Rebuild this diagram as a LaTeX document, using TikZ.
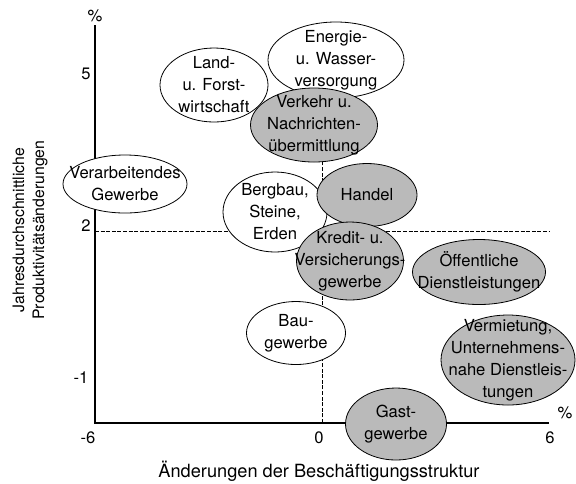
\documentclass[tikz,border=0pt]{standalone}
\usepackage{fontspec}
\setmainfont{TeX Gyre Heros}
\usetikzlibrary{shapes.geometric}
\begin{document}
\begin{tikzpicture}[x=0.5pt, y=-0.5pt, font=\fontsize{8.3}{11}\selectfont,
  sector/.style={ellipse, draw, line width=0.4pt, inner sep=0pt, fill=white},
  graysector/.style={sector, fill=black!27},
  sectortext/.style={inner sep=0pt, align=center},
  ticklabel/.style={inner sep=0pt},
  guide/.style={dash pattern=on 2pt off 0.8pt, line width=0.5pt}]
\useasboundingbox (0,0) rectangle (576,483);
\coordinate (o) at (95,423);
\coordinate (ytop) at (95,25);
\coordinate (xend) at (549,423);
\coordinate (two) at (95,231);
\coordinate (twoend) at (549,231);
\coordinate (zero) at (322,423);
\coordinate (zerotop) at (322,130);
\draw[line width=0.6pt] (ytop) -- (o) -- (xend);
\draw[guide] (two) -- (twoend);
\draw[guide] (zero) -- (zerotop);
\node[ticklabel] (ypct) at (95,16) {\%};
\node[ticklabel] (y5) at (86,74) {5};
\node[ticklabel] (y2) at (86,226) {2};
\node[ticklabel] (ym1) at (81,378) {-1};
\node[ticklabel] (xm6) at (88,438) {-6};
\node[ticklabel] (x0) at (319,438) {0};
\node[ticklabel] (x6) at (550,438) {6};
\node[ticklabel] (xpct) at (565,413) {\%};
\node[ticklabel, font=\fontsize{9.1}{11}\selectfont] (xlabel) at (319,471) {Änderungen der Beschäftigungsstruktur};
\node[ticklabel, rotate=90, align=center, font=\fontsize{7.9}{10}\selectfont] (ylabel) at (30,230) {Jahresdurchschnittliche\\Produktivitätsänderungen};
\node[sector, minimum width=62pt, minimum height=29pt] (verarb) at (125,184) {};
\node[sectortext] (verarb-t) at (verarb) {Verarbeitendes\\Gewerbe};
\node[sector, minimum width=54pt, minimum height=37pt] (land) at (214,85) {};
\node[sectortext] (land-t) at (land) {Land-\\u. Forst-\\wirtschaft};
\node[sector, minimum width=68pt, minimum height=38pt] (energie) at (336,60) {};
\node[sectortext] (energie-t) at (energie) {Energie-\\u. Wasser-\\versorgung};
\node[graysector, minimum width=63.5pt, minimum height=37pt] (verkehr) at (314,125) {};
\node[sectortext] (verkehr-t) at (verkehr) {Verkehr u.\\Nachrichten-\\übermittlung};
\node[sector, minimum width=52pt, minimum height=40pt] (bergbau) at (275,212) {};
\node[sectortext] (bergbau-t) at (bergbau) {Bergbau,\\Steine,\\Erden};
\node[graysector, minimum width=50pt, minimum height=31.5pt] (handel) at (367,195) {};
\node[sectortext] (handel-t) at (handel) {Handel};
\node[graysector, minimum width=53.5pt, minimum height=39pt] (kredit) at (350,261) {};
\node[sectortext] (kredit-t) at (kredit) {Kredit- u.\\Versicherungs-\\gewerbe};
\node[graysector, minimum width=66.5pt, minimum height=32.5pt] (oeff) at (479,272) {};
\node[sectortext] (oeff-t) at (oeff) {Öffentliche\\Dienstleistungen};
\node[sector, minimum width=49.5pt, minimum height=31.5pt] (bau) at (296,333) {};
\node[sectortext] (bau-t) at (bau) {Bau-\\gewerbe};
\node[graysector, minimum width=67pt, minimum height=45pt] (vermiet) at (508,360) {};
\node[sectortext] (vermiet-t) at (vermiet) {Vermietung,\\Unternehmens-\\nahe Dienstleis-\\tungen};
\node[graysector, minimum width=50.5pt, minimum height=36pt] (gast) at (396,424) {};
\node[sectortext] (gast-t) at (gast) {Gast-\\gewerbe};
\end{tikzpicture}
\end{document}
